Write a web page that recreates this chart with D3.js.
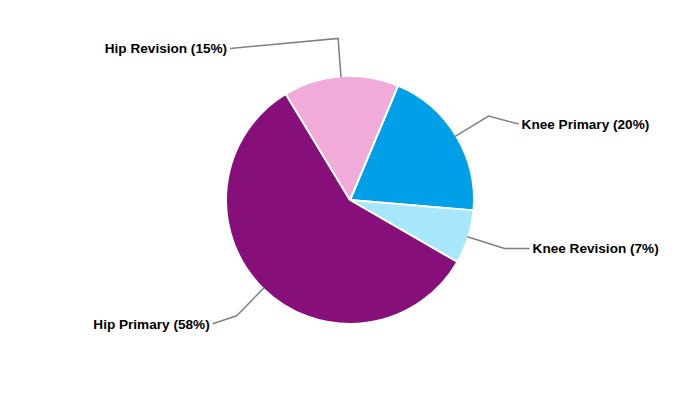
<!doctype html>
<html lang="en">
<head>
<meta charset="utf-8">
<title>Joint replacement split</title>
<style>
  body { margin: 0; background: #fff; }
  svg text { font-family: "Liberation Sans", Arial, sans-serif; font-weight: bold; font-size: 13.6px; fill: #000; }
</style>
</head>
<body>
<svg width="700" height="400"></svg>
<script src="https://cdn.jsdelivr.net/npm/d3@7"></script>
<script>
// data
var categories = ['Knee Primary', 'Knee Revision', 'Hip Primary', 'Hip Revision'];
var shares = [20, 7, 58, 15];
var colours = ['#00a0e9', '#a7e7fd', '#860f79', '#f0abd9'];
// where each label sits relative to the leader elbow (dx, dy)
var labelOffsets = [[30, 8], [25, 0], [-24, 8], [-108, 10]];

var svg = d3.select('svg');
var cx = 350, cy = 200, r = 124, elbowR = 162;
var startAngle = 22.8 * Math.PI / 180;

var pie = d3.pie().sort(null)
    .startAngle(startAngle)
    .endAngle(startAngle + 2 * Math.PI);

var arcs = pie(shares);
var arc = d3.arc().innerRadius(0).outerRadius(r);

var g = svg.append('g').attr('transform', 'translate(' + cx + ',' + cy + ')');

g.selectAll('path.slice')
  .data(arcs)
  .join('path')
  .attr('class', 'slice')
  .attr('d', arc)
  .attr('fill', (d, i) => colours[i])
  .attr('stroke', '#fff')
  .attr('stroke-width', 2)
  .attr('stroke-linejoin', 'round');

// point on a circle of radius rad at the middle of slice d
function at(d, rad) {
  var a = (d.startAngle + d.endAngle) / 2;
  return [rad * Math.sin(a), -rad * Math.cos(a)];
}

g.selectAll('polyline.leader')
  .data(arcs)
  .join('polyline')
  .attr('class', 'leader')
  .attr('points', function(d, i) {
    var p0 = at(d, r - 1), p1 = at(d, elbowR);
    var p2 = [p1[0] + labelOffsets[i][0], p1[1] + labelOffsets[i][1]];
    return [p0, p1, p2].map(p => p.join(',')).join(' ');
  })
  .attr('fill', 'none')
  .attr('stroke', '#808080')
  .attr('stroke-width', 1.5);

g.selectAll('text.lbl')
  .data(arcs)
  .join('text')
  .attr('class', 'lbl')
  .attr('x', (d, i) => at(d, elbowR)[0] + labelOffsets[i][0] + (labelOffsets[i][0] > 0 ? 3 : -3))
  .attr('y', (d, i) => at(d, elbowR)[1] + labelOffsets[i][1])
  .attr('dy', '0.35em')
  .attr('text-anchor', (d, i) => labelOffsets[i][0] > 0 ? 'start' : 'end')
  .text((d, i) => categories[i] + ' (' + shares[i] + '%)');
</script>
</body>
</html>
